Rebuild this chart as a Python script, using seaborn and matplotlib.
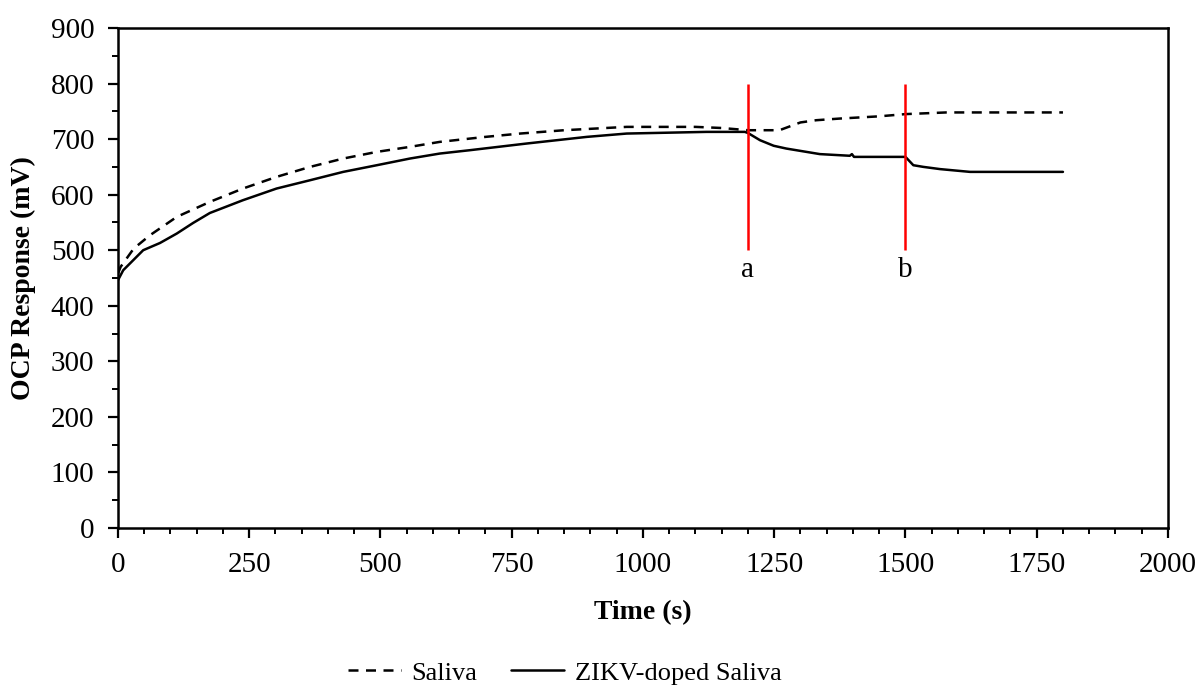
import numpy as np
import pandas as pd
import matplotlib
matplotlib.use("Agg")
import matplotlib.pyplot as plt
from matplotlib.ticker import MultipleLocator
import seaborn as sns

# OCP readings (time in s, potential in mV)
saliva_t = [0, 5, 30, 61, 112, 175, 238, 302, 366, 429, 493, 556, 613, 700,
            766, 850, 969, 1100, 1150, 1200, 1260, 1300, 1330, 1375, 1450,
            1500, 1578, 1800]
saliva_mv = [458, 470, 503, 527, 560, 587, 611, 632, 650, 665, 677, 686, 695,
             704, 710, 716, 722, 722, 720, 716, 716, 730, 734, 737, 741, 745,
             748, 748]

zikv_t = [0, 10, 48, 80, 112, 143, 175, 238, 302, 366, 429, 493, 556, 613,
          670, 778, 893, 969, 1121, 1194, 1200, 1223, 1249, 1273, 1305, 1337,
          1394, 1398, 1402, 1500, 1515, 1534, 1566, 1623, 1800]
zikv_mv = [446, 464, 500, 513, 530, 549, 567, 590, 611, 626, 641, 653, 665,
           674, 680, 692, 704, 710, 713, 713, 711, 698, 688, 683, 678, 673,
           670, 673, 668, 668, 653, 650, 646, 641, 641]

series_names = ["Saliva", "ZIKV-doped Saliva"]

# sample additions
event_times = [1200, 1500]
event_labels = ["a", "b"]
event_low, event_high = 500, 800
event_label_y = 465

df = pd.concat([
    pd.DataFrame({"Time": saliva_t, "OCP": saliva_mv, "Sample": series_names[0]}),
    pd.DataFrame({"Time": zikv_t, "OCP": zikv_mv, "Sample": series_names[1]}),
], ignore_index=True)

sns.set_style("ticks")
plt.rcParams["font.family"] = ["Liberation Serif", "DejaVu Serif"]
plt.rcParams["font.size"] = 21
plt.rcParams["text.color"] = "black"
plt.rcParams["axes.labelcolor"] = "black"

fig = plt.figure(figsize=(11.99, 6.88), dpi=100)
ax = fig.add_axes([0.0984, 0.2326, 0.8757, 0.7267])

sns.lineplot(data=df, x="Time", y="OCP", hue="Sample", style="Sample",
             hue_order=series_names, style_order=series_names,
             palette=["black", "black"],
             dashes={series_names[0]: (4, 3), series_names[1]: ""},
             linewidth=1.8, estimator=None, sort=False, ax=ax)

ax.vlines(event_times, event_low, event_high, color="red", linewidth=1.8)
for t, lab in zip(event_times, event_labels):
    ax.text(t, event_label_y, lab, ha="center", va="center", fontsize=21,
            color="black")

ax.set_xlim(0, 2000)
ax.set_ylim(0, 900)
ax.xaxis.set_major_locator(MultipleLocator(250))
ax.xaxis.set_minor_locator(MultipleLocator(50))
ax.yaxis.set_major_locator(MultipleLocator(100))
ax.yaxis.set_minor_locator(MultipleLocator(50))
ax.tick_params(which="major", direction="out", length=7, width=1.6,
               labelsize=21, pad=10, colors="black")
ax.tick_params(which="minor", direction="out", length=4.5, width=1.4,
               colors="black")
for s in ax.spines.values():
    s.set_linewidth(1.8)
    s.set_color("black")

ax.set_xlabel("Time (s)", fontsize=20, fontweight="bold", color="black")
ax.set_ylabel("OCP Response (mV)", fontsize=20, fontweight="bold",
              color="black")
ax.xaxis.set_label_coords(0.5, -0.145)
ax.yaxis.set_label_coords(-0.078, 0.5)

handles, labels = ax.get_legend_handles_labels()
ax.get_legend().remove()
leg = fig.legend(handles, labels, loc="center", bbox_to_anchor=(0.471, 0.022),
                 ncol=2, frameon=False, fontsize=19, handlelength=2.0,
                 handletextpad=0.4, columnspacing=1.3)
for txt in leg.get_texts():
    txt.set_color("black")

fig.savefig("out.png", dpi=100)
